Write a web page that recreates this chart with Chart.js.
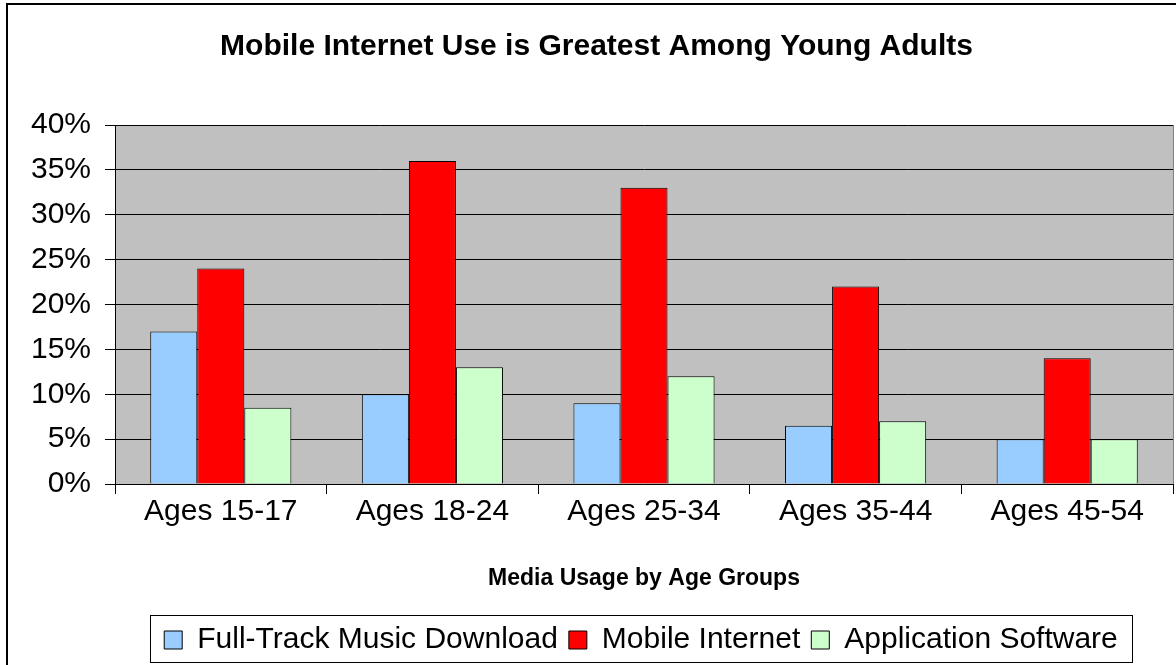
<!DOCTYPE html>
<html>
<head>
<meta charset="utf-8">
<script src="https://cdn.jsdelivr.net/npm/chart.js@4/dist/chart.umd.min.js"></script>
<style>
    html, body { margin: 0; padding: 0; background: #fff; }
    #wrap { width: 1176px; height: 665px; position: relative; }
</style>
</head>
<body>
<div id="wrap"><canvas id="usageChart" width="1176" height="665"></canvas></div>
<script>
const ageGroups = ['Ages 15-17', 'Ages 18-24', 'Ages 25-34', 'Ages 35-44', 'Ages 45-54'];
const musicDownload = [17, 10, 9, 6.5, 5];
const mobileInternet = [24, 36, 33, 22, 14];
const appSoftware = [8.5, 13, 12, 7, 5];
const yTicks = [0, 5, 10, 15, 20, 25, 30, 35, 40];

const FONT = "'Liberation Sans', Arial, sans-serif";

// grey plot area, outer frame and a box around the legend
const framePlugin = {
    id: 'frame',
    afterLayout(chart) {
        // legend sits centred under the plot area, title a bit right of centre
        const lg = chart.legend;
        const mid = (chart.chartArea.left + chart.chartArea.right) / 2;
        const shift = mid - 3 - (lg.left + lg.right) / 2;
        lg.left += shift;
        lg.right += shift;
        if (chart.titleBlock) {
            chart.titleBlock.left += 10;
            chart.titleBlock.right += 10;
        }
    },
    beforeDraw(chart) {
        const { ctx, chartArea } = chart;
        ctx.save();
        ctx.fillStyle = '#fff';
        ctx.fillRect(0, 0, chart.width, chart.height);
        ctx.strokeStyle = '#000';
        ctx.lineWidth = 2;
        ctx.strokeRect(7, 4, chart.width + 20, chart.height + 20);
        ctx.fillStyle = '#c0c0c0';
        ctx.fillRect(chartArea.left, chartArea.top, chartArea.right - chartArea.left, chartArea.bottom - chartArea.top);
        ctx.strokeStyle = '#808080';
        ctx.lineWidth = 1;
        ctx.beginPath();
        ctx.moveTo(chartArea.right + 0.5, chartArea.top);
        ctx.lineTo(chartArea.right + 0.5, chartArea.bottom);
        ctx.stroke();
        ctx.restore();
    },
    afterDraw(chart) {
        const boxes = chart.legend.legendHitBoxes;
        if (!boxes || !boxes.length) return;
        const left = Math.min(...boxes.map(b => b.left)) - 14;
        const right = Math.max(...boxes.map(b => b.left + b.width)) + 14;
        const top = Math.min(...boxes.map(b => b.top)) - 10;
        const bottom = Math.max(...boxes.map(b => b.top + b.height)) + 7;
        const ctx = chart.ctx;
        ctx.save();
        ctx.strokeStyle = '#000';
        ctx.lineWidth = 1;
        ctx.strokeRect(Math.round(left) + 0.5, Math.round(top) + 0.5, Math.round(right - left), Math.round(bottom - top));
        ctx.restore();
    }
};

new Chart(document.getElementById('usageChart').getContext('2d'), {
    type: 'bar',
    data: {
        labels: ageGroups,
        datasets: [
            { label: 'Full-Track Music Download', data: musicDownload, backgroundColor: '#99ccff' },
            { label: 'Mobile Internet', data: mobileInternet, backgroundColor: '#ff0000' },
            { label: 'Application Software', data: appSoftware, backgroundColor: '#ccffcc' }
        ]
    },
    options: {
        responsive: false,
        animation: false,
        layout: { padding: { left: 0, right: 3, top: 0, bottom: 0 } },
        datasets: {
            bar: {
                borderColor: '#000',
                borderWidth: 1,
                categoryPercentage: 0.667,
                barPercentage: 1
            }
        },
        plugins: {
            title: {
                display: true,
                text: 'Mobile Internet Use is Greatest Among Young Adults',
                color: '#000',
                font: { family: FONT, size: 30, weight: 'bold' },
                padding: { top: 29, bottom: 60 }
            },
            legend: {
                position: 'bottom',
                labels: {
                    color: '#000',
                    font: { family: FONT, size: 30 },
                    boxWidth: 18,
                    boxHeight: 18,
                    padding: 11
                }
            },
            tooltip: { enabled: false }
        },
        scales: {
            x: {
                afterFit(scale) { scale.height = 130; },
                grid: {
                    offset: true,
                    drawOnChartArea: false,
                    drawTicks: true,
                    tickLength: 10,
                    color: '#000'
                },
                border: { color: '#000' },
                ticks: {
                    color: '#000',
                    font: { family: FONT, size: 30 },
                    padding: 0,
                    maxRotation: 0
                },
                title: {
                    display: true,
                    text: 'Media Usage by Age Groups',
                    color: '#000',
                    font: { family: FONT, size: 23, weight: 'bold' },
                    padding: { top: 10, bottom: 22 }
                }
            },
            y: {
                min: yTicks[0],
                max: yTicks[yTicks.length - 1],
                afterFit(scale) { scale.width = 115; },
                afterBuildTicks(scale) { scale.ticks = yTicks.map(v => ({ value: v })); },
                grid: {
                    color: '#000',
                    lineWidth: 1,
                    tickLength: 10
                },
                border: { color: '#000' },
                ticks: {
                    color: '#000',
                    font: { family: FONT, size: 30 },
                    padding: 14,
                    callback: v => v + '%'
                }
            }
        }
    },
    plugins: [framePlugin]
});
</script>
</body>
</html>
